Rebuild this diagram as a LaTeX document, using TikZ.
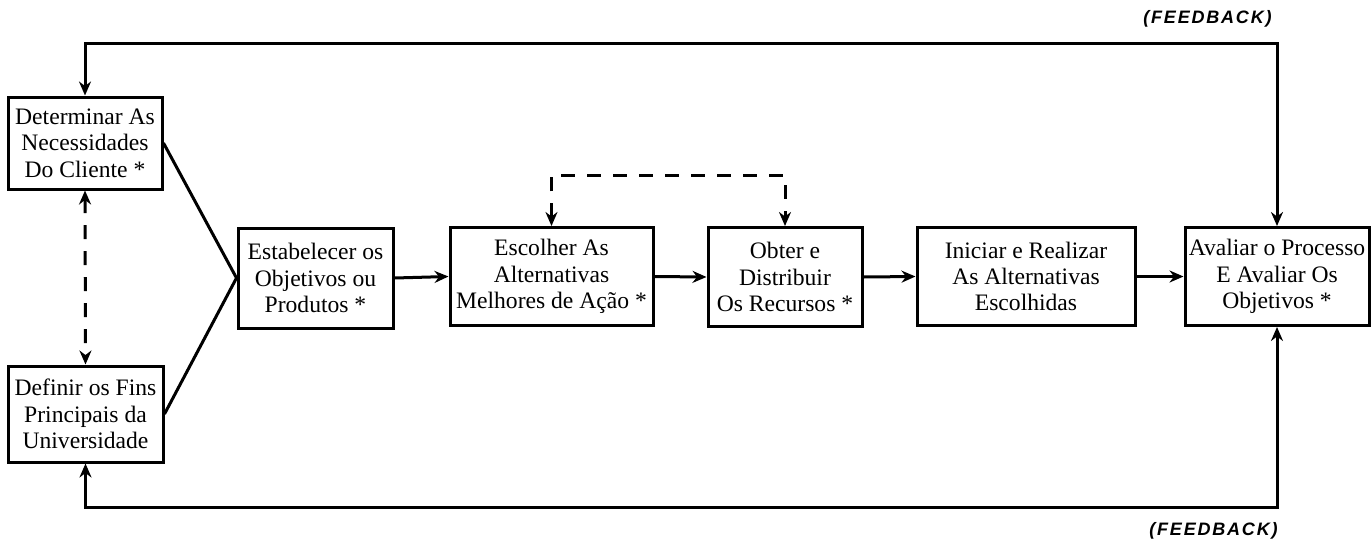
\documentclass[tikz,border=0pt]{standalone}
\usepackage{fontspec}
\setmainfont{Liberation Serif}
\newfontfamily\fbfont[LetterSpace=10]{Liberation Sans}
\usetikzlibrary{arrows.meta,calc}
\begin{document}
\begin{tikzpicture}[x=0.5pt,y=-0.5pt,
  box/.style={draw,line width=1.5pt,align=center,inner sep=0pt,
    font=\fontsize{11.8}{13.2}\selectfont},
  link/.style={line width=1.5pt,-{Stealth[length=7pt,width=6pt]}},
  biarrow/.style={line width=1.5pt,{Stealth[length=7pt,width=6pt]}-{Stealth[length=7pt,width=6pt]}},
  dlink/.style={biarrow,dash pattern=on 7pt off 6pt},
  fb/.style={font=\fbfont\bfseries\itshape\fontsize{9}{10}\selectfont,inner sep=0pt}
]
\useasboundingbox (0,0) rectangle (1372,547);

\node[box,minimum width=77pt,minimum height=46pt] (det) at (85,143)
  {Determinar As\\Necessidades\\Do Cliente *};
\node[box,minimum width=77.5pt,minimum height=48pt] (def) at (85.5,414)
  {Definir os Fins\\Principais da\\Universidade};
\node[box,minimum width=77.5pt,minimum height=50pt] (est) at (315.5,278)
  {Estabelecer os\\Objetivos ou\\Produtos *};
\node[box,minimum width=101.5pt,minimum height=49pt] (esc) at (551.5,276.5)
  {Escolher As\\Alternativas\\Melhores de Ação *};
\node[box,minimum width=77pt,minimum height=49.5pt] (obt) at (785,277)
  {Obter e\\Distribuir\\Os Recursos *};
\node[box,minimum width=109pt,minimum height=49pt] (ini) at (1026,276.5)
  {Iniciar e Realizar\\As Alternativas\\Escolhidas};
\node[box,minimum width=92pt,minimum height=49pt] (ava) at (1277,276.5)
  {Avaliar o Processo\\E Avaliar Os\\Objetivos *};

\coordinate (fbtop) at (0,43);
\coordinate (fbbot) at (0,507);
\coordinate (dtop) at (0,175);

% converging lines
\draw[line width=1.5pt] (det.east) -- (est.west);
\draw[line width=1.5pt] (def.east) -- (est.west);

% main flow
\draw[link] (est.east) -- (esc.west);
\draw[link] (esc.east) -- (obt.west);
\draw[link] (obt.east) -- (ini.west);
\draw[link] (ini.east) -- (ava.west);

% dashed links
\draw[dlink] (det.south) -- (def.north);
\draw[dlink] (esc.north) -- (esc.north |- dtop) -| (obt.north);

% feedback loops
\draw[biarrow] (det.north) -- (det.north |- fbtop) -| (ava.north);
\draw[biarrow] (def.south) -- (def.south |- fbbot) -| (ava.south);

\node[fb,anchor=east] (fbt) at (1272,19) {(FEEDBACK)};
\node[fb,anchor=east] (fbb) at (1278,531) {(FEEDBACK)};
\end{tikzpicture}
\end{document}
